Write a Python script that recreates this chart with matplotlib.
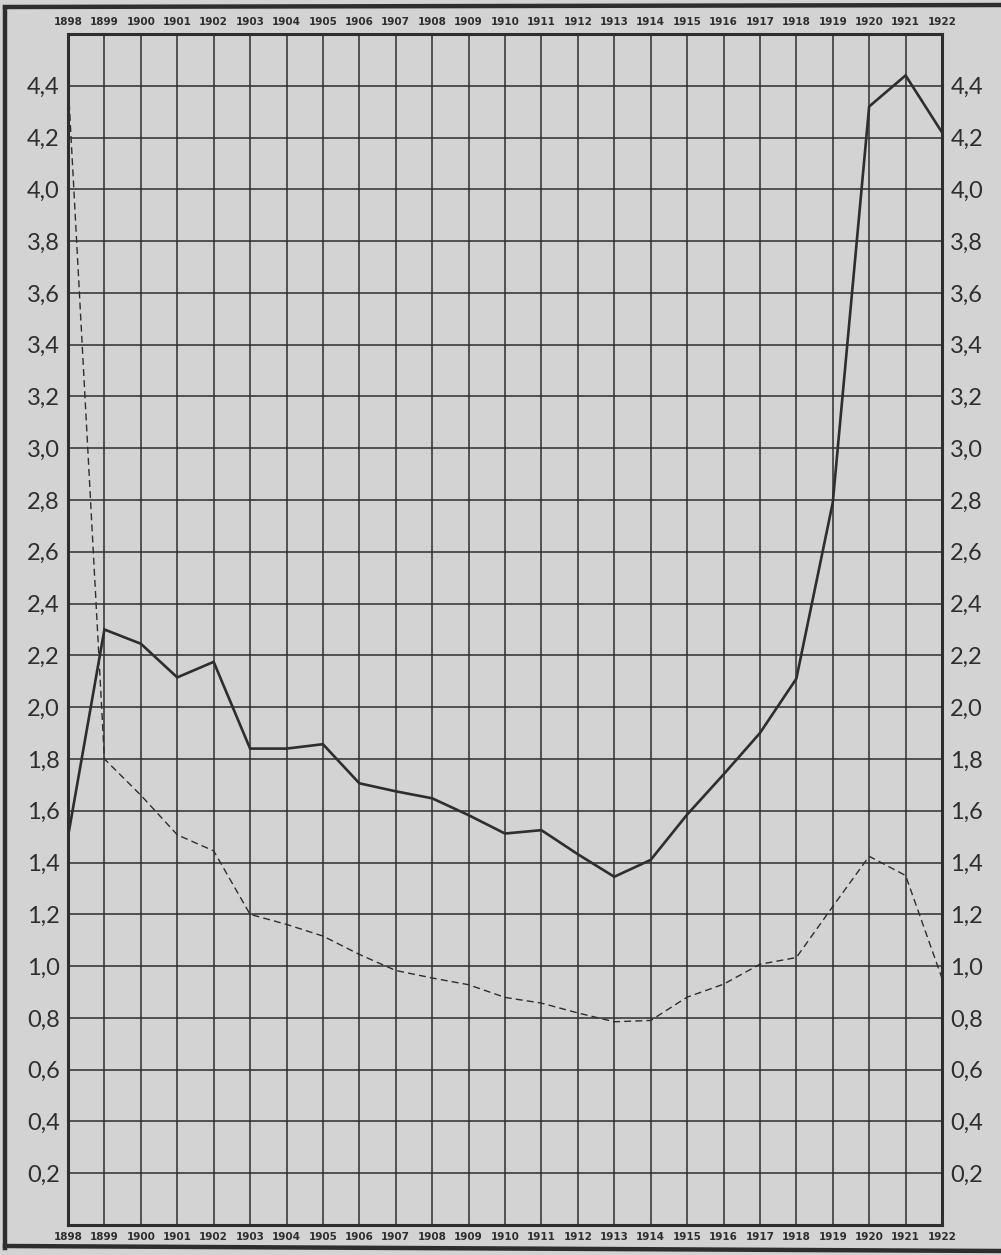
import matplotlib
matplotlib.use("Agg")
import matplotlib.pyplot as plt
from matplotlib.lines import Line2D

years = list(range(1898, 1923))
solid_values = [1.50, 2.30, 2.245, 2.115, 2.175, 1.84, 1.84, 1.857, 1.706, 1.675,
                1.648, 1.583, 1.512, 1.525, 1.432, 1.345, 1.41, 1.585, 1.74, 1.90,
                2.11, 2.79, 4.32, 4.44, 4.22]
dashed_values = [4.42, 1.80, 1.66, 1.507, 1.445, 1.20, 1.161, 1.116, 1.045, 0.983,
                 0.954, 0.928, 0.879, 0.857, 0.819, 0.785, 0.79, 0.88, 0.93, 1.007,
                 1.033, 1.23, 1.424, 1.35, 0.953]
y_ticks = [0.2, 0.4, 0.6, 0.8, 1.0, 1.2, 1.4, 1.6, 1.8, 2.0, 2.2, 2.4, 2.6, 2.8,
           3.0, 3.2, 3.4, 3.6, 3.8, 4.0, 4.2, 4.4]
y_tick_labels = ["0,2", "0,4", "0,6", "0,8", "1,0", "1,2", "1,4", "1,6", "1,8", "2,0",
                 "2,2", "2,4", "2,6", "2,8", "3,0", "3,2", "3,4", "3,6", "3,8", "4,0",
                 "4,2", "4,4"]
year_labels = [str(y) for y in years]

BG = "#d3d3d3"
INK = "#2e2e2e"

W, H = 1001, 1255
fig = plt.figure(figsize=(W / 100, H / 100), dpi=100, facecolor=BG)
left, right, top, bottom = 68, 942, 34, 1225
ax = fig.add_axes([left / W, 1 - bottom / H, (right - left) / W, (bottom - top) / H])
ax.set_facecolor(BG)

ax.set_xlim(1898, 1922)
ax.set_ylim(0, 4.6)

ax.set_xticks(years)
ax.set_xticklabels(year_labels)
ax.set_yticks(y_ticks)
ax.set_yticklabels(y_tick_labels)

ax.grid(True, color=INK, linewidth=1.1)
ax.set_axisbelow(True)

ax.tick_params(axis="x", which="both", length=0, top=True, bottom=True,
               labeltop=True, labelbottom=True, labelsize=7.5, pad=5, colors=INK)
ax.tick_params(axis="y", which="both", length=0, left=True, right=True,
               labelleft=True, labelright=True, labelsize=17, pad=6, colors=INK)
for t in ax.yaxis.get_major_ticks():
    for lab in (t.label1, t.label2):
        lab.set_family(["Lato", "DejaVu Sans"])
        lab.set_fontweight("normal")
for t in ax.xaxis.get_major_ticks():
    t.label1.set_fontweight("bold")
    t.label2.set_fontweight("bold")

for sp in ax.spines.values():
    sp.set_color(INK)
    sp.set_linewidth(2.2)

ax.plot(years, solid_values, color=INK, linewidth=1.9, solid_joinstyle="miter", zorder=5)
ax.plot(years, dashed_values, color=INK, linewidth=1.0, linestyle=(0, (5, 3)), zorder=5)

# outer frame of the sheet
lw = 3.2
fig.add_artist(Line2D([5 / W, 5 / W], [1 - 8 / H, 1 - 1248 / H], color=INK, linewidth=lw,
                      transform=fig.transFigure))
fig.add_artist(Line2D([5 / W, 1.0], [1 - 7 / H, 1 - 5 / H], color=INK, linewidth=lw,
                      transform=fig.transFigure))
fig.add_artist(Line2D([5 / W, 1.0], [1 - 1246 / H, 1 - 1251 / H], color=INK, linewidth=lw,
                      transform=fig.transFigure))

fig.savefig("out.png", dpi=100, facecolor=BG)
